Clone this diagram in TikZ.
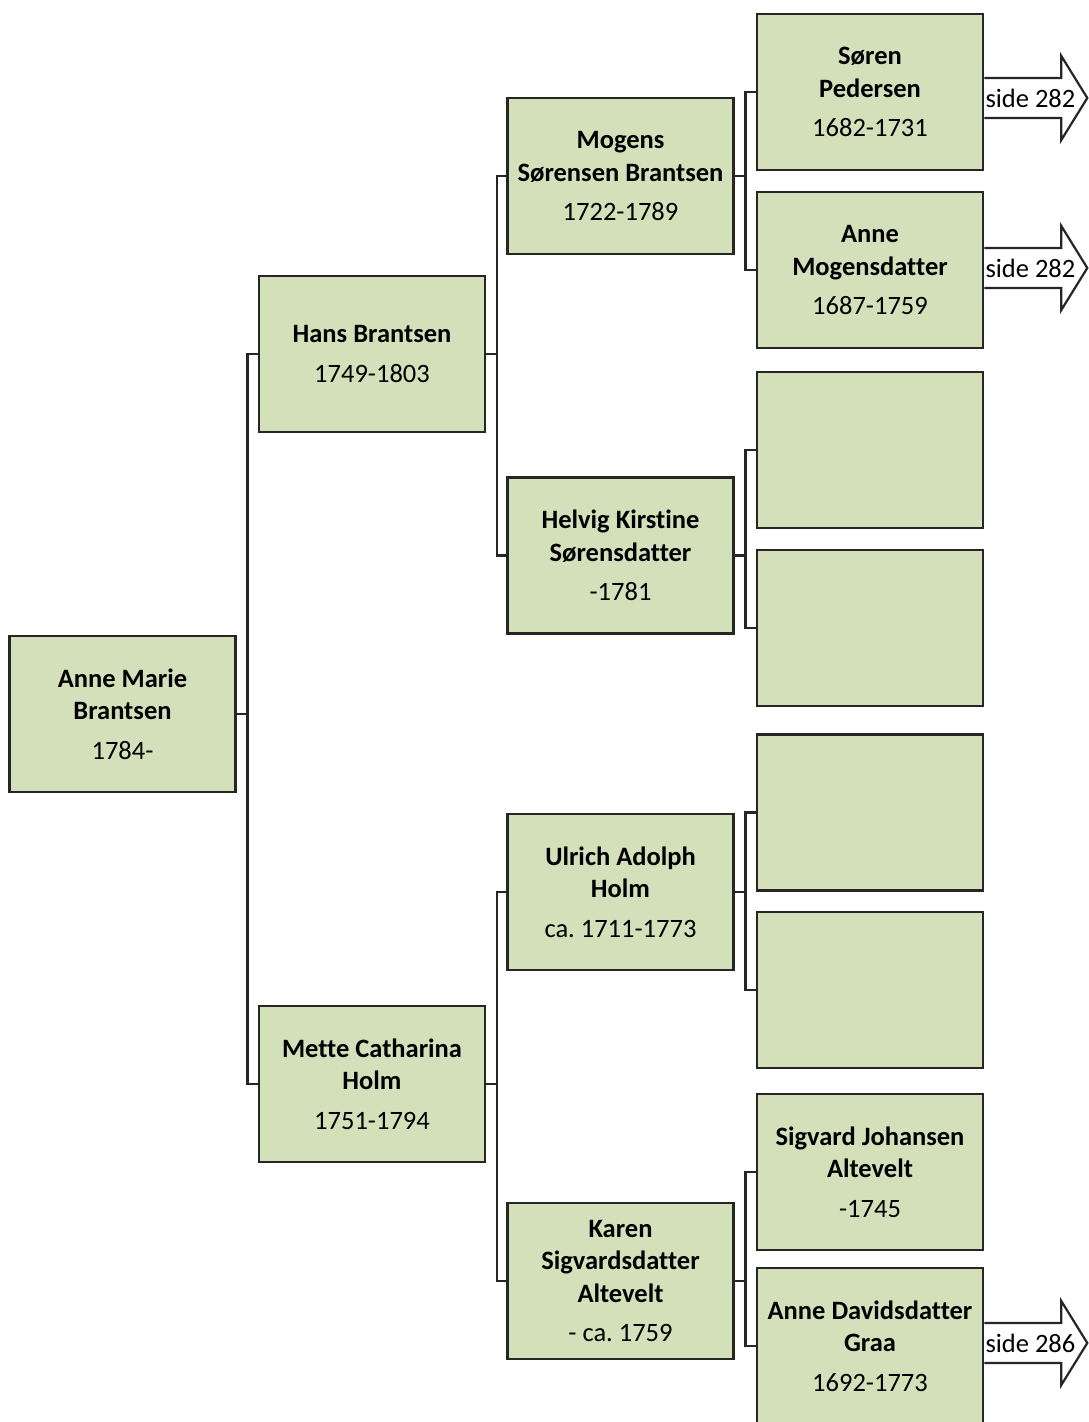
\documentclass[tikz,border=0pt]{standalone}
\usepackage{fontspec}
\setmainfont{Carlito}[Ligatures=NoCommon]
\usetikzlibrary{calc}
\definecolor{boxfill}{HTML}{D3E0BA}
\definecolor{boxline}{HTML}{262626}
\tikzset{
  person/.style={draw=boxline, line width=2.6pt, fill=boxfill, minimum width=226pt, minimum height=156pt,
    inner sep=0pt, align=center, font=\fontsize{26.5}{32.5}\selectfont, text=black},
  link/.style={draw=boxline, line width=2.4pt},
  pagearrow/.style={draw=boxline, line width=2.2pt, fill=white, line join=miter},
  pagelabel/.style={anchor=west, inner sep=0pt, font=\fontsize{26.5}{30}\selectfont, text=black}
}
\newcommand{\pname}[1]{\textbf{#1}}
\begin{document}
\frenchspacing
\begin{tikzpicture}[x=1pt, y=-1pt]
\useasboundingbox (0,0) rectangle (1088,1422);
% column 1
\node[person] (am) at (122.5,714) {\pname{Anne Marie}\\\pname{Brantsen}\\[7pt]1784-};
% column 2
\node[person] (hans) at (372,354) {\pname{Hans Brantsen}\\[7pt]1749-1803};
\node[person] (mette) at (372,1084) {\pname{Mette Catharina}\\\pname{Holm}\\[7pt]1751-1794};
% column 3
\node[person] (mogens) at (620.5,176) {\pname{Mogens}\\\pname{Sørensen Brantsen}\\[7pt]1722-1789};
\node[person] (helvig) at (620.5,555.5) {\pname{Helvig Kirstine}\\\pname{Sørensdatter}\\[7pt]-1781};
\node[person] (ulrich) at (620.5,892) {\pname{Ulrich Adolph}\\\pname{Holm}\\[7pt]ca. 1711-1773};
\node[person] (karen) at (620.5,1281) {\pname{Karen}\\\pname{Sigvardsdatter}\\\pname{Altevelt}\\[7pt]- ca. 1759};
% column 4
\node[person] (soren) at (870,92) {\pname{Søren}\\\pname{Pedersen}\\[7pt]1682-1731};
\node[person] (annem) at (870,270) {\pname{Anne}\\\pname{Mogensdatter}\\[7pt]1687-1759};
\node[person] (e1) at (870,450) {};
\node[person] (e2) at (870,628) {};
\node[person] (e3) at (870,812.5) {};
\node[person] (e4) at (870,990) {};
\node[person] (sigvard) at (870,1172) {\pname{Sigvard Johansen}\\\pname{Altevelt}\\[7pt]-1745};
\node[person] (anned) at (870,1346) {\pname{Anne Davidsdatter}\\\pname{Graa}\\[7pt]1692-1773};

% connectors
\foreach \p/\a/\b in {am/hans/mette, hans/mogens/helvig, mette/ulrich/karen,
                      mogens/soren/annem, helvig/e1/e2, ulrich/e3/e4, karen/sigvard/anned}{
  \draw[link] (\p.east) -- ++(10.5,0) |- (\a.west);
  \draw[link] (\p.east) -- ++(10.5,0) |- (\b.west);
}

% page arrows
\foreach \n/\dy/\t in {soren/6/side 282, annem/-2/side 282, anned/-3/side 286}{
  \coordinate (s) at ($(\n.east)+(0,\dy)$);
  \draw[pagearrow] ($(s)+(0,-20)$) -- ++(77,0) -- ++(0,-22) -- ++(26,42) -- ++(-26,42) -- ++(0,-22) -- ($(s)+(0,20)$);
  \node[pagelabel] (l\n) at ($(s)+(1,0)$) {\t};
}
\end{tikzpicture}
\end{document}
